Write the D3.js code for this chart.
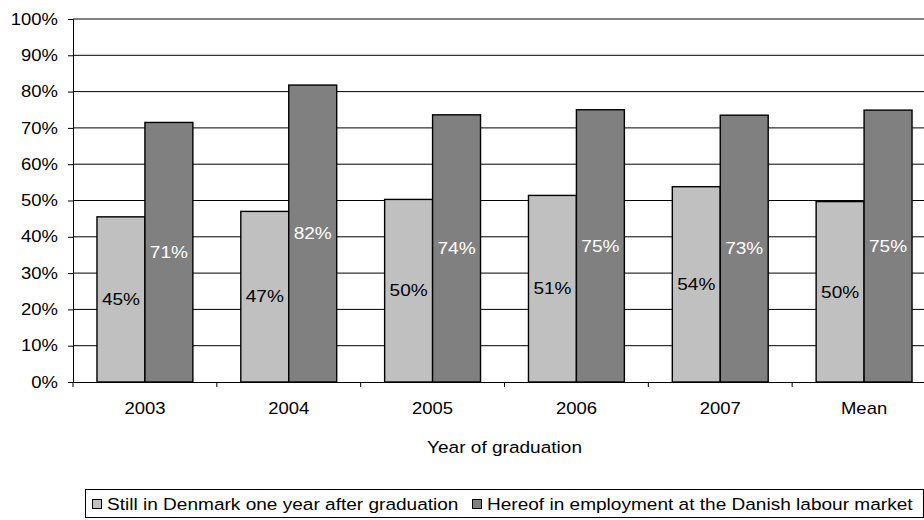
<!DOCTYPE html>
<html>
<head>
<meta charset="utf-8">
<script src="https://cdn.jsdelivr.net/npm/d3@7"></script>
<style>
  body { margin: 0; background: #fff; }
  svg { display: block; font-family: "Liberation Sans", Arial, sans-serif; }
</style>
</head>
<body>
<div id="chart"></div>
<script>
// Data
var categories = ["2003", "2004", "2005", "2006", "2007", "Mean"];
var stillInDenmark = [45.5, 47.0, 50.3, 51.4, 53.8, 49.7];
var inEmployment = [71.5, 81.8, 73.6, 75.0, 73.5, 74.9];
var stillLabels = ["45%", "47%", "50%", "51%", "54%", "50%"];
var employLabels = ["71%", "82%", "74%", "75%", "73%", "75%"];
var yTicks = [0, 10, 20, 30, 40, 50, 60, 70, 80, 90, 100];
var seriesNames = ["Still in Denmark one year after graduation",
                   "Hereof in employment at the Danish labour market"];
var seriesColors = ["#c0c0c0", "#808080"];

var width = 924, height = 520;
// plot area (right edge runs past the window, as in the reference)
var plotLeft = 73, plotRight = 936, plotTop = 19, plotBottom = 382;
// the reference text is a little stretched sideways
var stretch = 1.155;

var svg = d3.select("#chart")
    .append("svg")
    .attr("width", width)
    .attr("height", height);

var x = d3.scaleBand()
    .domain(categories)
    .range([plotLeft, plotRight])
    .paddingInner(0)
    .paddingOuter(0);

var x1 = d3.scaleBand()
    .domain([0, 1])
    .range([x.bandwidth() / 6, x.bandwidth() * 5 / 6]);

var y = d3.scaleLinear()
    .domain([0, 100])
    .range([plotBottom, plotTop]);

// gridlines
svg.append("g")
    .selectAll("line")
    .data(yTicks.filter(function(d) { return d > 0; }))
    .join("line")
    .attr("x1", plotLeft)
    .attr("x2", plotRight)
    .attr("y1", function(d) { return y(d); })
    .attr("y2", function(d) { return y(d); })
    .attr("stroke", "#000")
    .attr("stroke-width", 1);

// y axis
var yAxis = d3.axisLeft(y)
    .tickValues(yTicks)
    .tickSize(5)
    .tickFormat(function(d) { return d + "%"; });

var gy = svg.append("g")
    .attr("transform", "translate(" + plotLeft + ",0)")
    .call(yAxis);
gy.select(".domain").attr("stroke", "#000");
gy.selectAll(".tick line").attr("stroke", "#000");
gy.selectAll(".tick text")
    .attr("font-size", 16)
    .attr("fill", "#000")
    .attr("font-family", "Liberation Sans, Arial, sans-serif")
    .attr("x", -15 / stretch)
    .attr("transform", "scale(" + stretch + ",1)");

// bars
var groups = svg.append("g")
    .selectAll("g")
    .data(categories)
    .join("g")
    .attr("transform", function(d) { return "translate(" + x(d) + ",0)"; });

groups.each(function(c, i) {
    var g = d3.select(this);
    var vals = [stillInDenmark[i], inEmployment[i]];
    var labs = [stillLabels[i], employLabels[i]];
    vals.forEach(function(v, s) {
        g.append("rect")
            .attr("x", x1(s))
            .attr("y", y(v))
            .attr("width", x1.bandwidth())
            .attr("height", y(0) - y(v))
            .attr("fill", seriesColors[s])
            .attr("stroke", "#000")
            .attr("stroke-width", 1.4);
        g.append("text")
            .attr("transform", "translate(" + (x1(s) + x1.bandwidth() / 2) + "," +
                  ((y(0) + y(v)) / 2) + ") scale(" + stretch + ",1)")
            .attr("dy", "0.35em")
            .attr("text-anchor", "middle")
            .attr("font-size", 16.5)
            .attr("fill", s === 0 ? "#000" : "#fff")
            .text(labs[s]);
    });
});

// x axis
var xAxis = d3.axisBottom(x).tickSize(0).tickPadding(21);
var gx = svg.append("g")
    .attr("transform", "translate(0," + plotBottom + ")")
    .call(xAxis);
gx.select(".domain").attr("stroke", "#000");
gx.selectAll(".tick text")
    .attr("font-size", 16)
    .attr("fill", "#000")
    .attr("font-family", "Liberation Sans, Arial, sans-serif")
    .attr("transform", "scale(" + stretch + ",1)");

// tick marks at band boundaries
svg.append("g")
    .selectAll("line")
    .data(categories)
    .join("line")
    .attr("x1", function(d) { return x(d); })
    .attr("x2", function(d) { return x(d); })
    .attr("y1", plotBottom)
    .attr("y2", plotBottom + 5)
    .attr("stroke", "#000");

// axis title
svg.append("text")
    .attr("transform", "translate(" + ((plotLeft + plotRight) / 2) + ",453) scale(" + stretch + ",1)")
    .attr("text-anchor", "middle")
    .attr("font-size", 16.5)
    .text("Year of graduation");

// legend
var legend = svg.append("g").attr("transform", "translate(85,489)");
legend.append("rect")
    .attr("x", 0.5).attr("y", 0.5)
    .attr("width", 838).attr("height", 28)
    .attr("fill", "#fff")
    .attr("stroke", "#000");

var legendX = [7.5, 387.5];
seriesNames.forEach(function(name, s) {
    legend.append("rect")
        .attr("x", legendX[s]).attr("y", 10.5)
        .attr("width", 9).attr("height", 9)
        .attr("fill", seriesColors[s])
        .attr("stroke", "#000");
    legend.append("text")
        .attr("transform", "translate(" + (legendX[s] + 14.5) + ",21) scale(" + stretch + ",1)")
        .attr("font-size", 16.5)
        .text(name);
});
</script>
</body>
</html>
